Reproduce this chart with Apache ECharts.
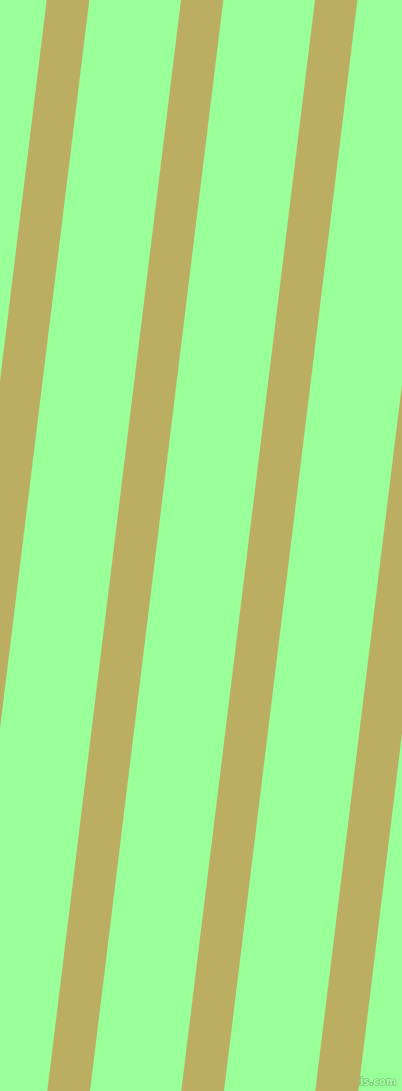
<!DOCTYPE html>
<html>
<head>
<meta charset="utf-8">
<script src="https://cdn.jsdelivr.net/npm/echarts@6/dist/echarts.min.js"></script>
<style>
html,body{margin:0;padding:0;background:#99ff99;}
#chart{width:402px;height:1091px;}
</style>
</head>
<body>
<div id="chart"></div>
<script>
// Stripe edges (x in px units of the 402x1091 canvas)
var stripeNames = ['s0', 's1', 's2', 's3'];
var topLeft     = [46.7, 181.0, 315.0, 449.2];
var topRight    = [89.3, 223.3, 357.4, 491.6];
var bottomLeft  = [-87.0, 47.3, 181.3, 315.3];
var bottomRight = [-44.5, 90.0, 224.0, 358.3];
var canvasW = 402, canvasH = 1091;
var watermark = 'pixlis.com';

var data = stripeNames.map(function (n, i) {
  return [topLeft[i], topRight[i], bottomRight[i], bottomLeft[i]];
});

var chart = echarts.init(document.getElementById('chart'), null, {renderer: 'canvas'});
chart.setOption({
  backgroundColor: '#99ff99',
  animation: false,
  grid: {left: 0, right: 0, top: 0, bottom: 0},
  xAxis: {type: 'value', min: 0, max: canvasW, show: false},
  yAxis: {type: 'value', min: 0, max: canvasH, inverse: true, show: false},
  series: [{
    type: 'custom',
    clip: true,
    data: data,
    renderItem: function (params, api) {
      var p1 = api.coord([api.value(0), 0]);
      var p2 = api.coord([api.value(1), 0]);
      var p3 = api.coord([api.value(2), canvasH]);
      var p4 = api.coord([api.value(3), canvasH]);
      return {
        type: 'polygon',
        shape: {points: [p1, p2, p3, p4]},
        style: {fill: '#bbad62'}
      };
    }
  }],
  graphic: [{
    type: 'text',
    right: 5,
    bottom: 3,
    style: {
      text: watermark,
      font: 'bold 10px "DejaVu Sans"',
      fill: '#a8ffa8',
      stroke: '#6fb86a',
      lineWidth: 1.2
    }
  }]
});
</script>
</body>
</html>
